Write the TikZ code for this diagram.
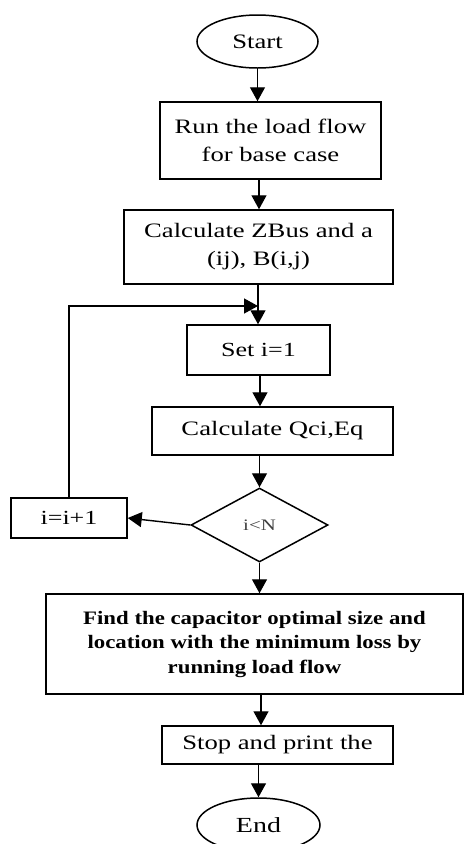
\documentclass[tikz,border=0pt]{standalone}
\usepackage{fontspec}
\setmainfont[FakeStretch=1.3]{Liberation Serif}
\newfontfamily\bfwide[FakeStretch=1.2]{Liberation Serif Bold}
\usetikzlibrary{shapes.geometric,arrows.meta}
\begin{document}
\begin{tikzpicture}[x=1pt,y=-1pt,
  box/.style={draw, line width=1.5pt, inner sep=0pt, align=center},
  term/.style={draw, ellipse, line width=1.5pt, inner sep=0pt, minimum width=121pt, minimum height=53pt},
  dec/.style={draw, diamond, line width=1.5pt, inner sep=0pt, minimum width=137pt, minimum height=74pt, aspect=1.85},
  flow/.style={-{Triangle[width=15pt,length=14pt]}, line width=1.4pt},
  txt/.style={font=\fontsize{20.5}{28}\selectfont},
  small/.style={font=\fontsize{16}{19}\selectfont}
]
\useasboundingbox (0,0) rectangle (464,844);
\fill[white] (0,0) rectangle (464,844);

\node[term, txt] (start) at (257.5,41.5) {Start};
\node[box, txt, minimum width=221pt, minimum height=77pt] (b1) at (270.5,140.5) {Run the load flow\\for base case};
\node[box, txt, minimum width=269pt, minimum height=74pt] (b2) at (258.5,247) {Calculate ZBus and a\\(ij), B(i,j)};
\node[box, font=\fontsize{20}{26}\selectfont, minimum width=143pt, minimum height=50pt] (set) at (258.5,350) {Set i=1};
\node[box, txt, minimum width=241pt, minimum height=48pt] (qci) at (272.5,431) {Calculate Qci,Eq};
\node[dec, small, text=black!75] (dia) at (259.5,525) {i<N};
\node[box, font=\fontsize{20}{26}\selectfont, minimum width=116pt, minimum height=40pt] (inc) at (69,518) {i=i+1};
\node[box, font=\bfwide\fontsize{19}{24.5}\selectfont, minimum width=417pt, minimum height=100pt] (fin) at (254.5,644) {Find the capacitor optimal size and\\location with the minimum loss by\\running load flow};
\node[box, txt, minimum width=231pt, minimum height=38pt] (stop) at (277.5,745) {Stop and print the};
\node[term, font=\fontsize{21.5}{26}\selectfont, minimum width=123pt, minimum height=54pt] (end) at (258.5,825) {End};

\coordinate (lp) at (258,306);

\draw[flow] (start.south) -- (start.south |- b1.north);
\draw[flow] (b1.south -| 259,0) -- (259,0 |- b2.north);
\draw[flow] (b2.south -| 258,0) -- (set.north -| 258,0);
\draw[flow] (set.south -| 260,0) -- (260,0 |- qci.north);
\draw[flow] (dia.north |- qci.south) -- (dia.north);
\draw[flow] (dia.south) -- (dia.south |- fin.north);
\draw[flow] (dia.west) -- (inc.east);
\draw[flow] (inc.north) |- (lp);
\draw[flow] (fin.south -| 261,0) -- (261,0 |- stop.north);
\draw[flow] (stop.south -| end.north) -- (end.north);
\end{tikzpicture}
\end{document}
